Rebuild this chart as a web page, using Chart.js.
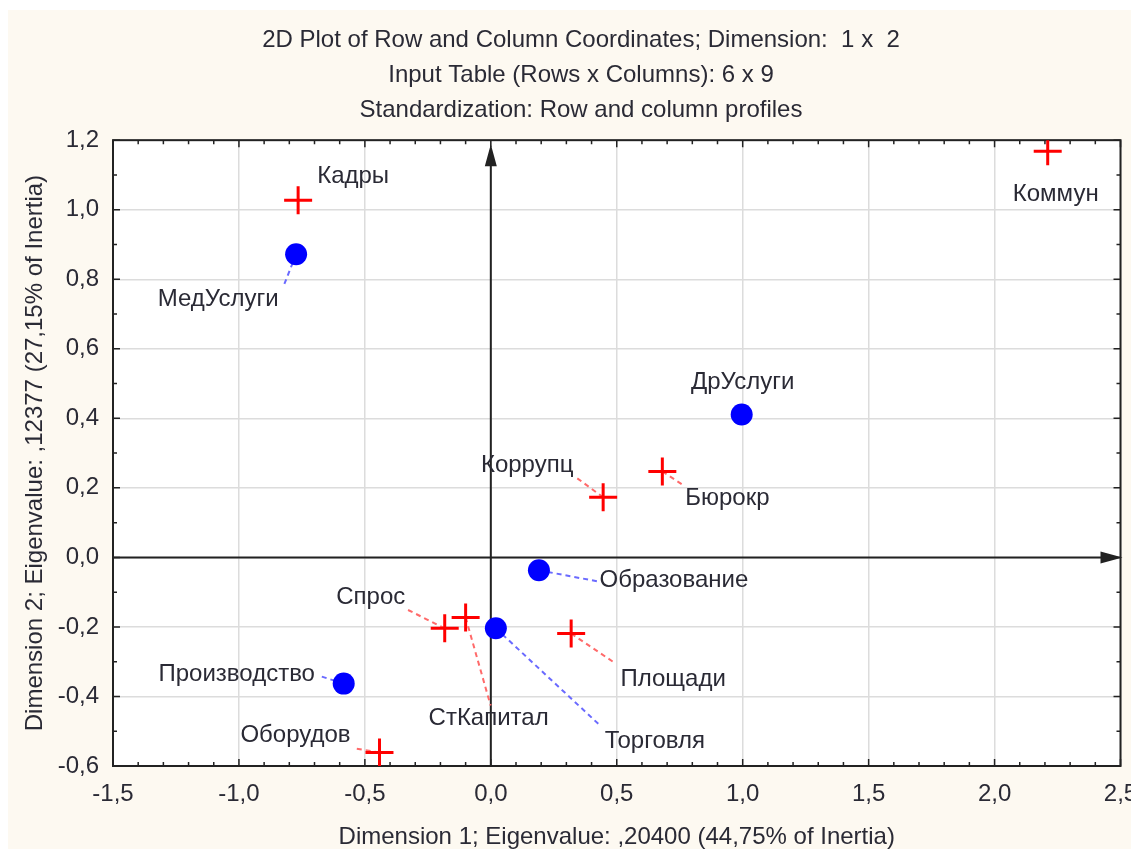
<!DOCTYPE html>
<html>
<head>
<meta charset="utf-8">
<script src="https://cdn.jsdelivr.net/npm/chart.js@4.4.0/dist/chart.umd.min.js"></script>
<style>
  html, body { margin: 0; background: #fff; overflow: hidden; }
  #wrap { position: absolute; left: 8px; top: 10px; width: 1146px; height: 839px; }
</style>
</head>
<body>
<div id="wrap"><canvas id="c" width="1146" height="839"></canvas></div>
<script>
// row points (blue circles)
const rowNames = ['МедУслуги', 'ДрУслуги', 'Образование', 'Торговля', 'Производство'];
const rowX = [-0.773, 0.996, 0.191, 0.02, -0.584];
const rowY = [0.872, 0.411, -0.037, -0.204, -0.363];

// column points (red crosses)
const colNames = ['Кадры', 'Коммун', 'Коррупц', 'Бюрокр', 'Спрос', 'СтКапитал', 'Площади', 'Оборудов'];
const colX = [-0.765, 2.211, 0.446, 0.681, -0.183, -0.10, 0.319, -0.442];
const colY = [1.027, 1.168, 0.173, 0.247, -0.204, -0.173, -0.219, -0.561];

const titleLines = [
  '2D Plot of Row and Column Coordinates; Dimension:  1 x  2',
  'Input Table (Rows x Columns): 6 x 9',
  'Standardization: Row and column profiles'
];
const xTitle = 'Dimension 1; Eigenvalue: ,20400 (44,75% of Inertia)';
const yTitle = 'Dimension 2; Eigenvalue: ,12377 (27,15% of Inertia)';

// label placement in px relative to the marker: [dx, dy, leaderEndX, leaderEndY]
const rowLabelPos = [
  [-78, 45, -13, 33],
  [1, -32, null, null],
  [135, 10, 58, 11],
  [159, 113, 103, 96],
  [-107, -9, -25, -8]
];
const colLabelPos = [
  [55, -24, null, null],
  [8, 43, null, null],
  [-76, -32, -26, -19],
  [65, 27, 20, 13],
  [-74, -31, -38, -19],
  [23, 101, 25, 88],
  [102, 46, 43, 29],
  [-84, -17, -24, -4]
];

const FONT = "'Liberation Sans', Arial, sans-serif";
const TXT = '#2a2a35';
const comma = v => Number(v).toFixed(1).replace('.', ',');

const decor = {
  id: 'decor',
  beforeDraw(chart) {
    const {ctx, chartArea: a} = chart;
    ctx.save();
    ctx.fillStyle = '#fdf9f1';
    ctx.fillRect(0, 0, chart.width, chart.height);
    ctx.fillStyle = '#fff';
    ctx.fillRect(a.left, a.top, a.right - a.left, a.bottom - a.top);
    ctx.restore();
  },
  beforeDatasetsDraw(chart) {
    const {ctx, chartArea: a, scales: {x, y}} = chart;
    ctx.save();
    ctx.strokeStyle = '#222';
    ctx.fillStyle = '#222';

    // small inward ticks on all four sides
    ctx.lineWidth = 1.5;
    ctx.beginPath();
    for (let i = -15; i <= 25; i++) {
      const px = x.getPixelForValue(i / 10);
      const len = i % 5 === 0 ? 7 : 4;
      ctx.moveTo(px, a.bottom); ctx.lineTo(px, a.bottom - len);
      ctx.moveTo(px, a.top); ctx.lineTo(px, a.top + len);
    }
    for (let i = -6; i <= 12; i++) {
      const py = y.getPixelForValue(i / 10);
      const len = i % 2 === 0 ? 7 : 4;
      ctx.moveTo(a.left, py); ctx.lineTo(a.left + len, py);
      ctx.moveTo(a.right, py); ctx.lineTo(a.right - len, py);
    }
    ctx.stroke();

    // frame
    ctx.lineWidth = 2;
    ctx.strokeRect(a.left, a.top, a.right - a.left, a.bottom - a.top);

    // axis arrows through the origin
    const x0 = x.getPixelForValue(0);
    const y0 = y.getPixelForValue(0);
    ctx.beginPath();
    ctx.moveTo(x0, a.bottom); ctx.lineTo(x0, a.top + 10);
    ctx.moveTo(a.left, y0); ctx.lineTo(a.right - 8, y0);
    ctx.stroke();
    ctx.beginPath();
    ctx.moveTo(x0, a.top + 4); ctx.lineTo(x0 - 6, a.top + 26); ctx.lineTo(x0 + 6, a.top + 26);
    ctx.closePath();
    ctx.moveTo(a.right + 2, y0); ctx.lineTo(a.right - 20, y0 - 6); ctx.lineTo(a.right - 20, y0 + 6);
    ctx.closePath();
    ctx.fill();

    // dashed leader lines
    ctx.lineWidth = 2;
    ctx.setLineDash([5, 4]);
    [[0, rowLabelPos, '#6a6aff'], [1, colLabelPos, '#ff6a6a']].forEach(([di, pos, col]) => {
      const meta = chart.getDatasetMeta(di);
      ctx.strokeStyle = col;
      meta.data.forEach((pt, j) => {
        const p = pos[j];
        if (p[2] === null) return;
        ctx.beginPath();
        ctx.moveTo(pt.x, pt.y);
        ctx.lineTo(pt.x + p[2], pt.y + p[3]);
        ctx.stroke();
      });
    });
    ctx.restore();
  },
  afterDatasetsDraw(chart) {
    const {ctx} = chart;
    ctx.save();
    ctx.font = '24px ' + FONT;
    ctx.fillStyle = TXT;
    ctx.textAlign = 'center';
    ctx.textBaseline = 'middle';
    [[0, rowNames, rowLabelPos], [1, colNames, colLabelPos]].forEach(([di, names, pos]) => {
      chart.getDatasetMeta(di).data.forEach((pt, j) => {
        ctx.fillText(names[j], pt.x + pos[j][0], pt.y + pos[j][1]);
      });
    });
    ctx.restore();
  }
};

new Chart(document.getElementById('c'), {
  type: 'scatter',
  data: {
    datasets: [
      {
        label: 'Rows',
        data: rowX.map((v, i) => ({x: v, y: rowY[i]})),
        pointStyle: 'circle',
        pointRadius: 11,
        pointHoverRadius: 11,
        backgroundColor: '#0000ff',
        borderColor: '#0000ff',
        borderWidth: 0
      },
      {
        label: 'Columns',
        data: colX.map((v, i) => ({x: v, y: colY[i]})),
        pointStyle: 'cross',
        pointRadius: 14,
        pointHoverRadius: 14,
        borderColor: '#ff0000',
        borderWidth: 3
      }
    ]
  },
  options: {
    responsive: false,
    devicePixelRatio: 1,
    animation: false,
    events: [],
    layout: { padding: 0 },
    plugins: {
      legend: { display: false },
      tooltip: { enabled: false },
      title: {
        display: true,
        text: titleLines,
        color: TXT,
        font: { family: FONT, size: 24, weight: 'normal', lineHeight: 1.44 },
        padding: { top: 13.5, bottom: 13 }
      }
    },
    scales: {
      x: {
        type: 'linear',
        min: -1.5,
        max: 2.5,
        grid: { color: '#dcdcdc', lineWidth: 1.5, drawTicks: false },
        border: { display: false },
        ticks: {
          stepSize: 0.5,
          padding: 14,
          color: TXT,
          font: { family: FONT, size: 24 },
          callback: v => comma(v)
        },
        title: {
          display: true,
          text: xTitle,
          color: TXT,
          font: { family: FONT, size: 24, lineHeight: 1 },
          padding: { top: 0, bottom: 0 }
        },
        afterFit(s) { s.height = 83; }
      },
      y: {
        type: 'linear',
        min: -0.6,
        max: 1.2,
        grid: { color: '#dcdcdc', lineWidth: 1.5, drawTicks: false },
        border: { display: false },
        ticks: {
          stepSize: 0.2,
          padding: 14,
          color: TXT,
          font: { family: FONT, size: 24 },
          callback: v => comma(v)
        },
        title: {
          display: true,
          text: yTitle,
          color: TXT,
          font: { family: FONT, size: 24, lineHeight: 1 },
          padding: { top: 15, bottom: 0 }
        },
        afterFit(s) { s.width = 105; }
      },
      // empty right-hand margin so the title stays centred on the whole canvas
      yRight: {
        type: 'linear',
        position: 'right',
        display: true,
        grid: { display: false },
        border: { display: false },
        ticks: { display: false },
        afterFit(s) { s.width = 33.5; }
      }
    }
  },
  plugins: [decor]
});
</script>
</body>
</html>
